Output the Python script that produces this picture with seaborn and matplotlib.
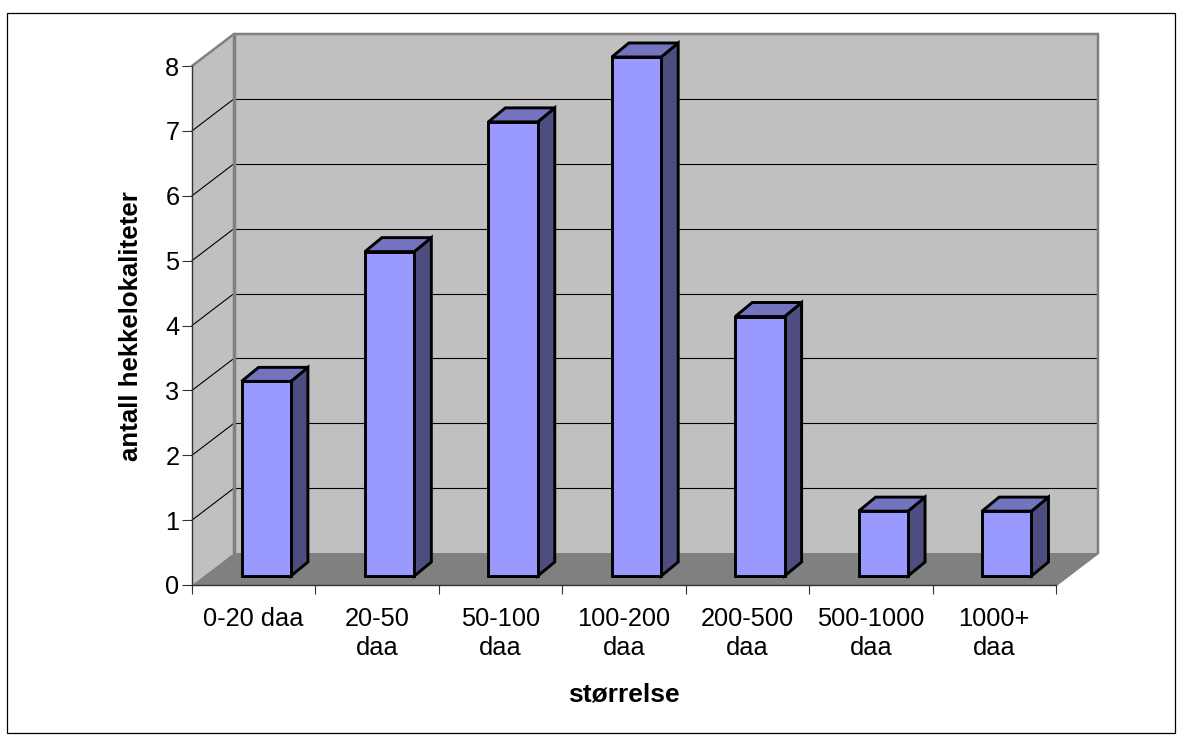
import matplotlib
matplotlib.use("Agg")
import matplotlib.pyplot as plt
from matplotlib.patches import Polygon, Rectangle
from matplotlib.transforms import Affine2D, IdentityTransform
import seaborn as sns

categories = ["0-20 daa", "20-50\ndaa", "50-100\ndaa", "100-200\ndaa",
              "200-500\ndaa", "500-1000\ndaa", "1000+\ndaa"]
counts = [3, 5, 7, 8, 4, 1, 1]
y_ticks = [0, 1, 2, 3, 4, 5, 6, 7, 8]
x_label = "størrelse"
y_label = "antall hekkelokaliteter"

W, H = 1182, 738

sns.set_style("white")
plt.rcParams["font.family"] = ["Liberation Sans", "DejaVu Sans"]
plt.rcParams["text.color"] = "black"
plt.rcParams["xtick.color"] = "black"
plt.rcParams["ytick.color"] = "black"

fig = plt.figure(figsize=(W / 100, H / 100), dpi=100)
# front edge of the chart box, in pixels of the reference
left, right, y0, y8 = 192, 1056, 585, 66
ax = fig.add_axes([left / W, 1 - y0 / H, (right - left) / W, (y0 - y8) / H])
ax.patch.set_alpha(0)

fig.add_artist(Rectangle((7 / W, 1 - 733 / H), 1168 / W, 720 / H, transform=fig.transFigure,
                         fill=False, edgecolor="black", linewidth=0.9))

sns.barplot(x=categories, y=counts, color="#9999FF", saturation=1, width=0.4,
            edgecolor="black", linewidth=2.1, ax=ax, zorder=3)
ax.set_xlim(-0.5, len(categories) - 0.5)
ax.set_ylim(0, 8)

# offsets for the fake 3d look (pixels, y up)
wall_dx, wall_dy = 42, 32
back = ax.transData + Affine2D().translate(wall_dx, wall_dy)
bar_shift = ax.transData + Affine2D().translate(12.5, 9)
depth = (17, 14)

x_lo, x_hi = ax.get_xlim()
y_top = y_ticks[-1]
ident = IdentityTransform()


def px(x, y):
    return ax.transData.transform((x, y))


def shifted(x, y):
    p = px(x, y)
    return (p[0] + wall_dx, p[1] + wall_dy)


# walls and floor
ax.add_patch(Polygon([(x_lo, 0), (x_hi, 0), (x_hi, y_top), (x_lo, y_top)], transform=back,
                     facecolor="#C0C0C0", edgecolor="none", zorder=0.5, clip_on=False))
ax.add_patch(Polygon([px(x_lo, 0), shifted(x_lo, 0), shifted(x_lo, y_top), px(x_lo, y_top)],
                     transform=ident, facecolor="#C0C0C0", edgecolor="none", zorder=0.5, clip_on=False))
ax.add_patch(Polygon([px(x_lo, 0), px(x_hi, 0), shifted(x_hi, 0), shifted(x_lo, 0)],
                     transform=ident, facecolor="#808080", edgecolor="none", zorder=0.6, clip_on=False))

# gridlines on back and side wall
for v in y_ticks[1:-1]:
    ax.plot([x_lo, x_hi], [v, v], transform=back, color="black", lw=0.8, clip_on=False, zorder=0.7)
    a, b = px(x_lo, v), shifted(x_lo, v)
    ax.plot([a[0], b[0]], [a[1], b[1]], transform=ident, color="black", lw=0.8, clip_on=False, zorder=0.7)

# grey frame of the walls
frame = [px(x_lo, y_top), shifted(x_lo, y_top), shifted(x_hi, y_top), shifted(x_hi, 0), px(x_hi, 0)]
ax.plot([p[0] for p in frame], [p[1] for p in frame], transform=ident, color="#808080",
        lw=1.8, clip_on=False, zorder=0.8, solid_joinstyle="miter")
ax.plot([shifted(x_lo, 0)[0], shifted(x_lo, y_top)[0]], [shifted(x_lo, 0)[1], shifted(x_lo, y_top)[1]],
        transform=ident, color="#808080", lw=2.5, clip_on=False, zorder=0.8)

# bars: shift the front face, add side and top
for bar in list(ax.patches):
    if not isinstance(bar, Rectangle) or bar.get_width() > 1:
        continue
    bar.set_transform(bar_shift)
    bar.set_clip_on(False)
    bar.set_joinstyle("miter")
    xa, xb = bar.get_x(), bar.get_x() + bar.get_width()
    h = bar.get_height()
    bl, br, tr, tl = [bar_shift.transform(p) for p in [(xa, 0), (xb, 0), (xb, h), (xa, h)]]
    dx, dy = depth
    ax.add_patch(Polygon([br, br + (dx, dy), tr + (dx, dy), tr], transform=ident, facecolor="#4D4D80",
                         edgecolor="black", linewidth=2.1, clip_on=False, zorder=2.8, joinstyle="miter"))
    ax.add_patch(Polygon([tl, tr, tr + (dx, dy), tl + (dx, dy)], transform=ident, facecolor="#7373BF",
                         edgecolor="black", linewidth=2.1, clip_on=False, zorder=2.8, joinstyle="miter"))

# axes
sns.despine(ax=ax, top=True, right=True)
for name in ["left", "bottom"]:
    ax.spines[name].set_color("#333333")
    ax.spines[name].set_linewidth(1.0)
    ax.spines[name].set_zorder(4)

ax.set_yticks(y_ticks)
ax.set_xticks([i - 0.5 for i in range(len(categories) + 1)], minor=True)
ax.set_xticks(range(len(categories)))
ax.set_xticklabels(categories, fontsize=18.3, color="black", linespacing=1.27)
ax.set_xlabel("")
ax.tick_params(axis="x", which="major", length=0, pad=16)
ax.tick_params(axis="x", which="minor", length=6.5, width=0.8, color="#333333", bottom=True)
ax.tick_params(axis="y", length=7, width=0.8, color="#333333", labelsize=18.3, pad=2, left=True)

fig.text(624 / W, 1 - 695 / H, x_label, fontsize=19, fontweight="bold", ha="center", va="center")
fig.text(131 / W, 1 - 326 / H, y_label, fontsize=18.6, fontweight="bold", rotation=90, ha="center", va="center")

fig.savefig("out.png", dpi=100)
